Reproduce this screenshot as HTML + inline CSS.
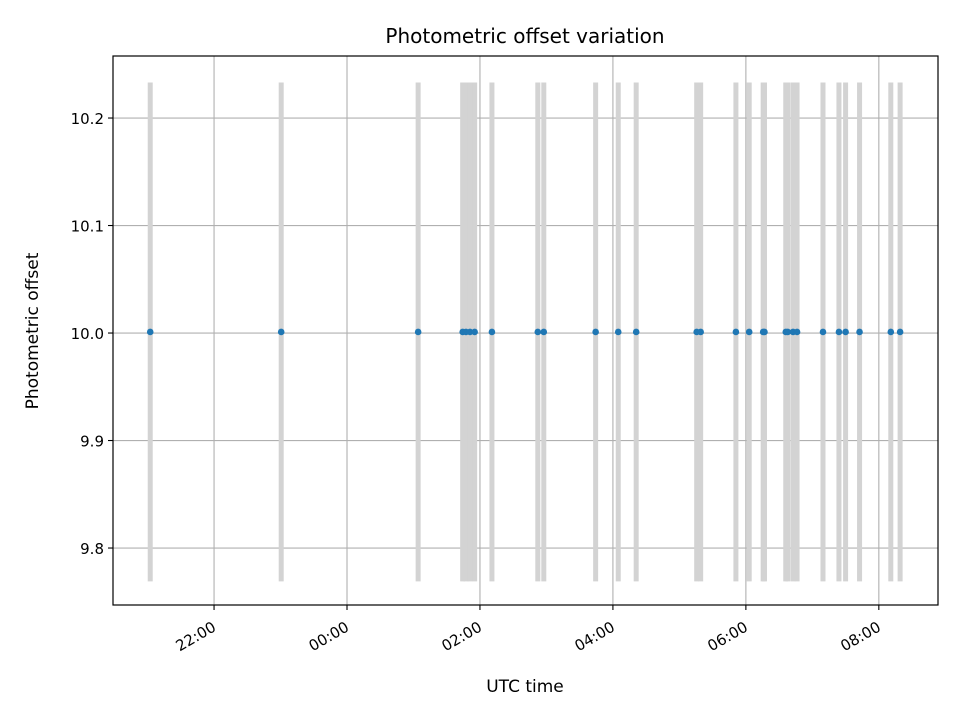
<!DOCTYPE html>
<html><head><meta charset="utf-8"><style>body{margin:0;background:#fff}svg{display:block;font-family:"DejaVu Sans","Liberation Sans",sans-serif}</style></head>
<body>
<svg id="chart" width="960" height="720" viewBox="0 0 960 720">
<rect x="0" y="0" width="960" height="720" fill="#fff"/>
<g id="grid"></g>
<g id="bars"></g>
<g id="pts"></g>
<rect x="113" y="56" width="825" height="549" fill="none" stroke="#000" stroke-width="1.2"/>
<g id="axes"></g>
<text x="525" y="43" text-anchor="middle" font-size="20">Photometric offset variation</text>
<text x="525" y="692" text-anchor="middle" font-size="17">UTC time</text>
<text transform="translate(38,331) rotate(-90)" text-anchor="middle" font-size="17">Photometric offset</text>
</svg>
<script>
// hours relative to 00:00 UTC
const times = [-2.96,-0.99,1.07,1.74,1.79,1.85,1.92,2.18,2.87,2.96,3.74,4.08,4.35,5.26,5.32,5.85,6.05,6.26,6.28,6.60,6.63,6.71,6.77,7.16,7.40,7.50,7.71,8.18,8.32];
const offsets = [10.001,10.001,10.001,10.001,10.001,10.001,10.001,10.001,10.001,10.001,10.001,10.001,10.001,10.001,10.001,10.001,10.001,10.001,10.001,10.001,10.001,10.001,10.001,10.001,10.001,10.001,10.001,10.001,10.001];
const errors = [0.232,0.232,0.232,0.232,0.232,0.232,0.232,0.232,0.232,0.232,0.232,0.232,0.232,0.232,0.232,0.232,0.232,0.232,0.232,0.232,0.232,0.232,0.232,0.232,0.232,0.232,0.232,0.232,0.232];
const xTicks = [-2,0,2,4,6,8];
const xTickLabels = ["22:00","00:00","02:00","04:00","06:00","08:00"];
const yTicks = [9.8,9.9,10.0,10.1,10.2];
const yTickLabels = ["9.8","9.9","10.0","10.1","10.2"];

const L=113,R=938,T=56,B=605;
const xMin=-3.52,xMax=8.89,yMin=9.747,yMax=10.2577;
const X=v=>L+(v-xMin)/(xMax-xMin)*(R-L);
const Y=v=>B-(v-yMin)/(yMax-yMin)*(B-T);
const NS="http://www.w3.org/2000/svg";
function mk(tag,attrs,parent){const e=document.createElementNS(NS,tag);for(const k in attrs)e.setAttribute(k,attrs[k]);parent.appendChild(e);return e;}
const grid=document.getElementById('grid'),axes=document.getElementById('axes'),bars=document.getElementById('bars'),pts=document.getElementById('pts');
xTicks.forEach((t,i)=>{
  const x=X(t);
  const g=mk('line',{x1:x,x2:x,y1:T,y2:B,stroke:'#b0b0b0','stroke-width':1.1},grid);
  
  
  const tk=mk('line',{x1:x,x2:x,y1:B,y2:B+5,stroke:'#000','stroke-width':1.1},axes);
  
  
  const tx=mk('text',{transform:`translate(${x+3},${B+25}) rotate(-30)`,'text-anchor':'end','font-size':15},axes);
  tx.textContent=xTickLabels[i];
  
  
});
yTicks.forEach((t,i)=>{
  const y=Y(t);
  const g=mk('line',{x1:L,x2:R,y1:y,y2:y,stroke:'#b0b0b0','stroke-width':1.1},grid);
  
  
  const tk=mk('line',{x1:L-5,x2:L,y1:y,y2:y,stroke:'#000','stroke-width':1.1},axes);
  
  
  const tx=mk('text',{x:L-9,y:y+6,'text-anchor':'end','font-size':15},axes);
  tx.textContent=yTickLabels[i];
  
  
});
times.forEach((t,i)=>{
  const x=X(t);
  const b=mk('line',{x1:x,x2:x,y1:Y(offsets[i]+errors[i]),y2:Y(offsets[i]-errors[i]),stroke:'#d3d3d3','stroke-width':5},bars);
  
  
});
times.forEach((t,i)=>{
  const c=mk('circle',{cx:X(t),cy:Y(offsets[i]),r:3.3,fill:'#1f77b4'},pts);
  
  
});
</script>
</body></html>
